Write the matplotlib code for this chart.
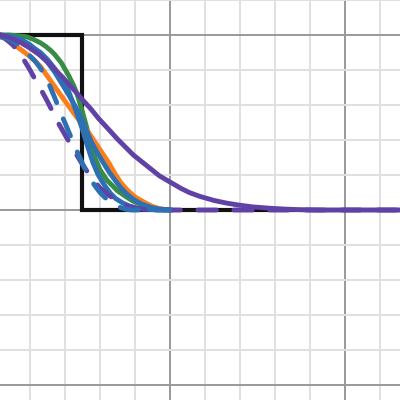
import numpy as np
import matplotlib.pyplot as plt

# step function
step_x = [0.0, 0.5, 0.5, 2.4]
step_y = [1.0, 1.0, 0.0, 0.0]

# smooth curves
green_x = [0.03, 0.08, 0.14, 0.18, 0.22, 0.26, 0.29, 0.32, 0.34, 0.38, 0.42, 0.45, 0.47, 0.50,
           0.53, 0.55, 0.57, 0.60, 0.64, 0.70, 0.75, 0.79, 0.84, 0.91, 0.96, 1.00]
green_y = [1.0, 1.0, 0.995, 0.99, 0.975, 0.955, 0.935, 0.91, 0.89, 0.84, 0.77, 0.71, 0.66, 0.56,
           0.45, 0.37, 0.30, 0.23, 0.17, 0.11, 0.075, 0.05, 0.03, 0.01, 0.002, 0.0]

orange_x = [0.03, 0.06, 0.09, 0.13, 0.17, 0.22, 0.26, 0.31, 0.38, 0.46, 0.53, 0.59, 0.65, 0.69,
            0.72, 0.76, 0.80, 0.86, 0.90, 0.94, 0.98, 1.01]
orange_y = [0.99, 0.98, 0.96, 0.93, 0.90, 0.86, 0.82, 0.75, 0.65, 0.54, 0.45, 0.36, 0.27, 0.20,
            0.155, 0.11, 0.075, 0.04, 0.02, 0.008, 0.002, 0.0]

blue_a_x = [0.03, 0.08, 0.14, 0.20, 0.26, 0.30, 0.34, 0.38, 0.42, 0.46, 0.50, 0.53, 0.56, 0.59,
            0.63, 0.66, 0.69, 0.73, 0.77, 0.82, 0.88, 0.94]
blue_a_y = [1.0, 0.99, 0.97, 0.94, 0.90, 0.86, 0.81, 0.75, 0.68, 0.575, 0.46, 0.36, 0.27, 0.20,
            0.135, 0.095, 0.065, 0.04, 0.022, 0.01, 0.003, 0.0]

blue_b_x = [0.03, 0.08, 0.14, 0.20, 0.26, 0.30, 0.34, 0.38, 0.42, 0.46, 0.49, 0.52, 0.55, 0.58,
            0.61, 0.65, 0.69, 0.72, 0.76, 0.80, 0.84, 0.89, 0.94, 1.01]
blue_b_y = [1.0, 0.995, 0.98, 0.945, 0.89, 0.845, 0.79, 0.725, 0.66, 0.59, 0.53, 0.46, 0.39, 0.335,
            0.285, 0.22, 0.165, 0.125, 0.085, 0.055, 0.033, 0.015, 0.005, 0.0]

purple_x = [0.03, 0.07, 0.11, 0.15, 0.20, 0.25, 0.29, 0.34, 0.38, 0.43, 0.47, 0.50, 0.55, 0.59,
            0.65, 0.70, 0.75, 0.79, 0.84, 0.89, 0.94, 1.00, 1.06, 1.11, 1.17, 1.25, 1.32, 1.38,
            1.47, 1.57, 1.66, 1.74, 1.85, 2.32]
purple_y = [1.0, 0.99, 0.975, 0.955, 0.925, 0.89, 0.855, 0.805, 0.765, 0.71, 0.665, 0.63, 0.575, 0.525,
            0.46, 0.405, 0.355, 0.315, 0.275, 0.235, 0.195, 0.16, 0.125, 0.10, 0.078, 0.055, 0.04, 0.03,
            0.018, 0.01, 0.005, 0.002, 0.0, 0.0]

# dashed curves
blue_d_x = [0.03, 0.07, 0.11, 0.15, 0.20, 0.23, 0.26, 0.30, 0.34, 0.38, 0.42, 0.46, 0.50, 0.54,
            0.57, 0.60, 0.63, 0.66, 0.69, 0.72, 0.75, 0.78, 1.0]
blue_d_y = [0.99, 0.98, 0.96, 0.93, 0.88, 0.85, 0.81, 0.74, 0.645, 0.545, 0.45, 0.355, 0.265, 0.185,
            0.14, 0.10, 0.07, 0.046, 0.027, 0.013, 0.004, 0.0, 0.0]

purple_d_x = [0.03, 0.07, 0.10, 0.13, 0.17, 0.20, 0.23, 0.27, 0.30, 0.33, 0.36, 0.40, 0.44, 0.47,
              0.50, 0.54, 0.57, 0.60, 0.65, 0.71, 0.76, 0.80, 0.85, 0.89, 2.32]
purple_d_y = [1.0, 0.97, 0.945, 0.91, 0.85, 0.80, 0.745, 0.675, 0.62, 0.56, 0.50, 0.43, 0.36, 0.31,
              0.26, 0.20, 0.16, 0.126, 0.085, 0.045, 0.022, 0.011, 0.004, 0.0, 0.0]

fig = plt.figure(figsize=(4, 4), dpi=100)
ax = fig.add_axes([0, 0, 1, 1])

# grid
ax.set_xticks(np.arange(0, 2.5, 0.2), minor=True)
ax.set_yticks(np.arange(-1.2, 1.3, 0.2), minor=True)
ax.set_xticks([1, 2])
ax.set_yticks([-1, 0, 1])
ax.grid(which="minor", color="#e0e0e0", linewidth=1.4)
ax.grid(which="major", color="#999999", linewidth=1.4)
ax.tick_params(which="both", length=0, labelbottom=False, labelleft=False)
for s in ax.spines.values():
    s.set_visible(False)
ax.set_axisbelow(True)

lw = 3.5
dash = (0, (3.8, 3.6))
ax.plot(step_x, step_y, color="#111111", linewidth=3.0, solid_joinstyle="miter")
ax.plot(green_x, green_y, color="#388c46", linewidth=lw, solid_capstyle="round")
ax.plot(orange_x, orange_y, color="#fa7e19", linewidth=lw, solid_capstyle="round")
ax.plot(blue_b_x, blue_b_y, color="#2d70b3", linewidth=lw, solid_capstyle="round")
ax.plot(blue_a_x, blue_a_y, color="#2d70b3", linewidth=lw, solid_capstyle="round")
ax.plot(purple_d_x, purple_d_y, color="#6042a6", linewidth=lw,
        linestyle=dash, dash_capstyle="round")
ax.plot(blue_d_x, blue_d_y, color="#2d70b3", linewidth=lw,
        linestyle=dash, dash_capstyle="round")
ax.plot(purple_x, purple_y, color="#6042a6", linewidth=lw, solid_capstyle="round")

ax.set_xlim(0.0286, 2.3143)
ax.set_ylim(-1.0857, 1.2)

fig.savefig("out.png", dpi=100)
